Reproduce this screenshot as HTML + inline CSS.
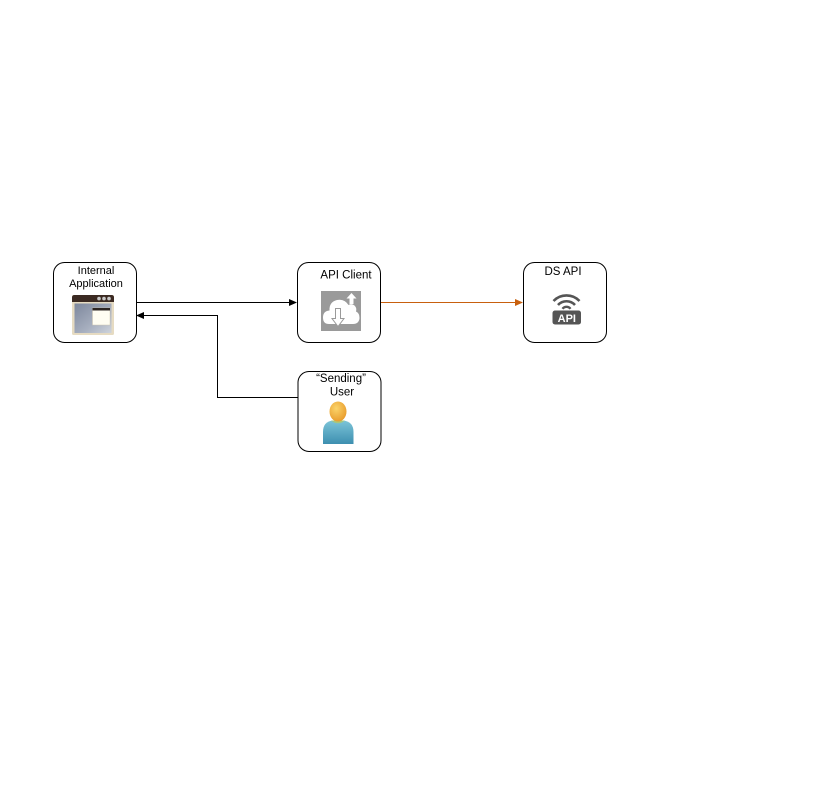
<!DOCTYPE html>
<html>
<head>
<meta charset="utf-8">
<style>
  html,body{margin:0;padding:0;background:#fff;}
  svg{display:block;}
  text{font-family:"Liberation Sans",Arial,sans-serif;fill:#000;}
</style>
</head>
<body>
<svg width="835" height="801" viewBox="0 0 835 801" xmlns="http://www.w3.org/2000/svg">
  <defs>
    <linearGradient id="scr" x1="0" y1="0" x2="1" y2="1">
      <stop offset="0" stop-color="#7d879c"/>
      <stop offset="0.6" stop-color="#a7afbf"/>
      <stop offset="1" stop-color="#cfd4dc"/>
    </linearGradient>
    <radialGradient id="head" cx="0.4" cy="0.35" r="0.7">
      <stop offset="0" stop-color="#fbd46a"/>
      <stop offset="1" stop-color="#e89a2a"/>
    </radialGradient>
    <linearGradient id="body" x1="0" y1="0" x2="0" y2="1">
      <stop offset="0" stop-color="#7cc4d8"/>
      <stop offset="1" stop-color="#3d8fb0"/>
    </linearGradient>
  </defs>

  <!-- Boxes -->
  <rect x="53.5" y="262.5" width="83" height="80" rx="11" ry="11" fill="#fff" stroke="#000" stroke-width="1"/>
  <rect x="297.5" y="262.5" width="83" height="80" rx="11" ry="11" fill="#fff" stroke="#000" stroke-width="1"/>
  <rect x="523.5" y="262.5" width="83" height="80" rx="11" ry="11" fill="#fff" stroke="#000" stroke-width="1"/>
  <rect x="298" y="371.5" width="83" height="80" rx="11" ry="11" fill="#fff" stroke="#000" stroke-width="1"/>

  <!-- Labels -->
  <text x="96" y="274" font-size="11" text-anchor="middle">Internal</text>
  <text x="96" y="287" font-size="11" text-anchor="middle">Application</text>
  <text x="346" y="278.5" font-size="11.5" text-anchor="middle">API Client</text>
  <text x="563" y="275" font-size="11.5" text-anchor="middle">DS API</text>
  <text x="341" y="382" font-size="11.5" text-anchor="middle">“Sending”</text>
  <text x="342" y="395.5" font-size="11.5" text-anchor="middle">User</text>

  <!-- Connectors -->
  <line x1="136" y1="302.5" x2="290" y2="302.5" stroke="#000" stroke-width="1"/>
  <polygon points="297,302.5 289,299 289,306" fill="#000"/>

  <polyline points="298,397.5 217.5,397.5 217.5,315.5 143,315.5" fill="none" stroke="#000" stroke-width="1"/>
  <polygon points="136,315.5 144,312 144,319" fill="#000"/>

  <line x1="381" y1="302.5" x2="516" y2="302.5" stroke="#c8600e" stroke-width="1"/>
  <polygon points="523,302.5 515,299 515,306" fill="#c8600e"/>

  <!-- Internal Application icon -->
  <rect x="72" y="295" width="42" height="40" rx="1.5" fill="#e6dbc2"/>
  <path d="M72,302 L72,297.5 Q72,295 74.5,295 L111.5,295 Q114,295 114,297.5 L114,302 Z" fill="#3b2a22"/>
  <circle cx="99" cy="298.6" r="1.8" fill="#c9c9c9"/>
  <circle cx="104" cy="298.6" r="1.8" fill="#c9c9c9"/>
  <circle cx="109" cy="298.6" r="1.8" fill="#c9c9c9"/>
  <rect x="74.5" y="303.5" width="37" height="29.5" fill="url(#scr)"/>
  <rect x="92.5" y="308" width="17.5" height="17" fill="#fffdf2" stroke="#cfc6b0" stroke-width="0.5"/>
  <rect x="92.5" y="308" width="17.5" height="2.5" fill="#2d2522"/>

  <!-- API Client icon -->
  <rect x="321" y="291" width="40" height="40" fill="#9a9a9a"/>
  <path d="M329,324 Q323,324 323,317.5 Q323,311 329.5,310.5 Q329,302 337,300 Q344.5,298.5 348.5,305 Q351.5,303 354.5,305.5 Q357,308 356,311.5 Q359.5,313 359.5,318 Q359,324 353,324 Z" fill="#fff"/>
  <polygon points="351.5,293 346.5,298.5 349.5,298.5 349.5,304 353.5,304 353.5,298.5 356.5,298.5" fill="#fff"/>
  <polygon points="335.5,308.5 340.5,308.5 340.5,318.5 344,318.5 338,326.5 332,318.5 335.5,318.5" fill="#fff" stroke="#9a9a9a" stroke-width="1"/>

  <!-- DS API icon -->
  <path d="M553.5,301 A18,18 0 0 1 579.5,301" fill="none" stroke="#555" stroke-width="2.6"/>
  <path d="M558,305 A11.5,11.5 0 0 1 575,305" fill="none" stroke="#555" stroke-width="2.6"/>
  <path d="M562.5,308.8 A5,5 0 0 1 570.5,308.8" fill="none" stroke="#555" stroke-width="2.4"/>
  <rect x="552.5" y="310.5" width="28.5" height="14" rx="2.5" fill="#555"/>
  <text x="566.8" y="322" font-size="11" font-weight="bold" text-anchor="middle" style="fill:#fff">API</text>

  <!-- User icon -->
  <path d="M323,444 L323,432 Q323,421.5 333,420.5 L343,420.5 Q353.5,421.5 353.5,432 L353.5,444 Z" fill="url(#body)"/>
  <path d="M331,420.5 Q338,426 345,420.5 Z" fill="#a9c77a"/>
  <ellipse cx="338" cy="411.5" rx="8.5" ry="10" fill="url(#head)"/>
</svg>
</body>
</html>
